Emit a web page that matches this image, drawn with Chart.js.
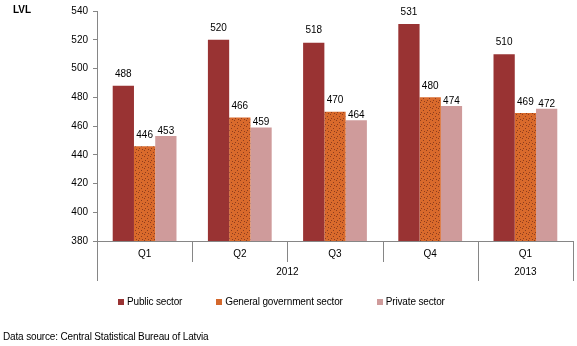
<!DOCTYPE html>
<html>
<head>
<meta charset="utf-8">
<script src="https://cdn.jsdelivr.net/npm/chart.js@4.4.1/dist/chart.umd.min.js"></script>
<style>
  html, body { margin: 0; padding: 0; background: #fff; }
  #wrap { position: relative; width: 577px; height: 346px; font-family: "Liberation Sans", Arial, sans-serif; color: #000; }
  #wrap canvas { position: absolute; left: 0; top: 0; }
  .unit { position: absolute; left: 13px; top: 4px; font-size: 10px; font-weight: bold; }
  .legend { position: absolute; left: 118px; top: 296px; display: flex; gap: 34px; font-size: 10px; letter-spacing: -0.15px; }
  .legend span.item { display: flex; align-items: center; white-space: nowrap; }
  .legend i { display: inline-block; width: 6px; height: 6px; margin-right: 3px; }
  .source { position: absolute; left: 3px; top: 331px; font-size: 10px; white-space: nowrap; letter-spacing: -0.15px; }
</style>
</head>
<body>
<div id="wrap">
  <canvas id="chart" width="577" height="346"></canvas>
  <div class="unit">LVL</div>
  <div class="legend" id="legend"></div>
  <div class="source">Data source: Central Statistical Bureau of Latvia</div>
</div>
<script>
// Average monthly gross wages by sector, LVL
const quarters = ['Q1', 'Q2', 'Q3', 'Q4', 'Q1'];
const years = ['2012', '2012', '2012', '2012', '2013'];
const seriesNames = ['Public sector', 'General government sector', 'Private sector'];
const publicSector = [488, 520, 518, 531, 510];
const generalGov = [446, 466, 470, 480, 469];
const privateSector = [453, 459, 464, 474, 472];
const yTicks = { min: 380, max: 540, step: 20 };

const AXIS = '#868686';
const FONT = { family: '"Liberation Sans", Arial, sans-serif', size: 10 };

// dotted orange fill for the general government bars
function dottedPattern() {
  const c = document.createElement('canvas');
  c.width = 6; c.height = 6;
  const g = c.getContext('2d');
  g.fillStyle = '#d96a2c';
  g.fillRect(0, 0, 6, 6);
  g.fillStyle = '#8e3c1c';
  [[0, 0], [3, 2], [1, 4], [4, 5]].forEach(function (p) { g.fillRect(p[0], p[1], 1, 1); });
  return g.createPattern(c, 'repeat');
}

const colors = ['#993333', dottedPattern(), '#cf9b9b'];
const swatches = ['#993333', '#d4682c', '#cf9b9b'];
const labelLift = [12, 11, 5];

// quarter labels, year labels and the separators under the axis
const groupAxis = {
  id: 'groupAxis',
  afterDraw(chart) {
    const ctx = chart.ctx;
    const xs = chart.scales.x;
    const n = quarters.length;
    const w = (xs.right - xs.left) / n;
    const base = xs.top;
    ctx.save();
    ctx.strokeStyle = AXIS;
    ctx.lineWidth = 1;
    for (let i = 0; i <= n; i++) {
      const x = Math.round(xs.left + i * w) + 0.5;
      const yearEdge = i === 0 || i === n || years[i] !== years[i - 1];
      ctx.beginPath();
      ctx.moveTo(x, base);
      ctx.lineTo(x, base + (yearEdge ? 40 : 21));
      ctx.stroke();
    }
    ctx.fillStyle = '#000';
    ctx.font = FONT.size + 'px ' + FONT.family;
    ctx.textAlign = 'center';
    ctx.textBaseline = 'middle';
    quarters.forEach(function (q, i) {
      ctx.fillText(q, xs.getPixelForValue(i), base + 13);
    });
    let start = 0;
    for (let i = 1; i <= n; i++) {
      if (i === n || years[i] !== years[start]) {
        const cx = xs.left + w * (start + i) / 2;
        ctx.fillText(years[start], cx, base + 31.5);
        start = i;
      }
    }
    ctx.restore();
  }
};

// value labels above every bar
const valueLabels = {
  id: 'valueLabels',
  afterDatasetsDraw(chart) {
    const ctx = chart.ctx;
    ctx.save();
    ctx.fillStyle = '#000';
    ctx.font = FONT.size + 'px ' + FONT.family;
    ctx.textAlign = 'center';
    ctx.textBaseline = 'middle';
    chart.data.datasets.forEach(function (ds, di) {
      chart.getDatasetMeta(di).data.forEach(function (bar, i) {
        ctx.fillText(String(ds.data[i]), bar.x, bar.y - labelLift[di]);
      });
    });
    ctx.restore();
  }
};

new Chart(document.getElementById('chart'), {
  type: 'bar',
  data: {
    labels: quarters,
    datasets: [publicSector, generalGov, privateSector].map(function (d, i) {
      return {
        label: seriesNames[i],
        data: d,
        backgroundColor: colors[i],
        borderWidth: 0,
        categoryPercentage: 0.67,
        barPercentage: 1
      };
    })
  },
  options: {
    responsive: false,
    animation: false,
    layout: { padding: { top: 8, right: 4, bottom: 61, left: 0 } },
    plugins: { legend: { display: false }, tooltip: { enabled: false } },
    scales: {
      x: {
        ticks: { display: false },
        grid: { display: false },
        border: { color: AXIS },
        afterFit(scale) { scale.height = 44; }
      },
      y: {
        min: yTicks.min,
        max: yTicks.max,
        ticks: { stepSize: yTicks.step, color: '#000', font: FONT, padding: 5 },
        grid: { drawOnChartArea: false, tickLength: 4, color: AXIS },
        border: { color: AXIS },
        afterFit(scale) { scale.width = 97; }
      }
    }
  },
  plugins: [groupAxis, valueLabels]
});

const legend = document.getElementById('legend');
seriesNames.forEach(function (name, i) {
  const item = document.createElement('span');
  item.className = 'item';
  item.innerHTML = '<i style="background:' + swatches[i] + '"></i>' + name;
  legend.appendChild(item);
});
</script>
</body>
</html>
